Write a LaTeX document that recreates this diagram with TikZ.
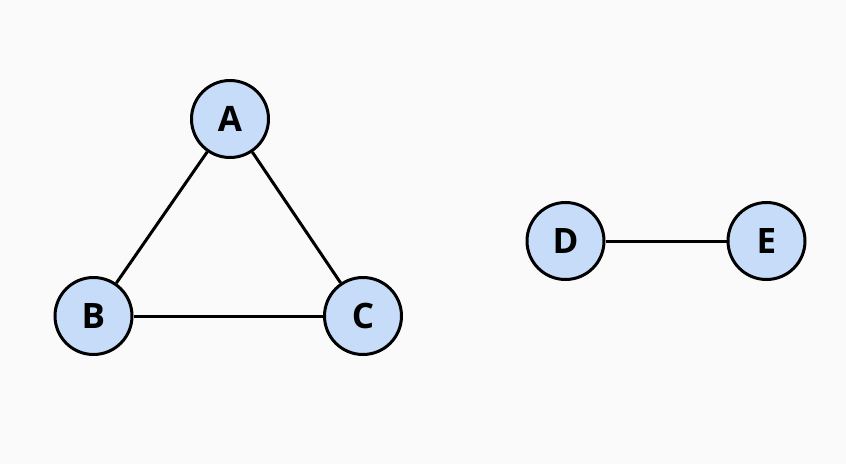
\documentclass[tikz,border=0pt]{standalone}
\usepackage{fontspec}
\setmainfont{Open Sans}
\definecolor{bg}{HTML}{FAFAFA}
\definecolor{nodefill}{HTML}{C6DCF8}
\tikzset{
  vert/.style={circle, draw=black, line width=3pt, fill=nodefill, minimum size=77pt, inner sep=0pt, font=\fontsize{35}{35}\selectfont\bfseries},
  edge/.style={line width=3pt, black}
}
\begin{document}
\begin{tikzpicture}[x=1pt,y=-1pt]
\fill[bg] (0,0) rectangle (846,464);
\useasboundingbox (0,0) rectangle (846,464);
\node[vert] (A) at (230,119) {A};
\node[vert] (B) at (93.5,316) {B};
\node[vert] (C) at (363,316) {C};
\node[vert] (D) at (565.5,241) {D};
\node[vert] (E) at (766.5,241) {E};
\draw[edge] (A) -- (B);
\draw[edge] (A) -- (C);
\draw[edge] (B) -- (C);
\draw[edge] (D) -- (E);
\end{tikzpicture}
\end{document}
